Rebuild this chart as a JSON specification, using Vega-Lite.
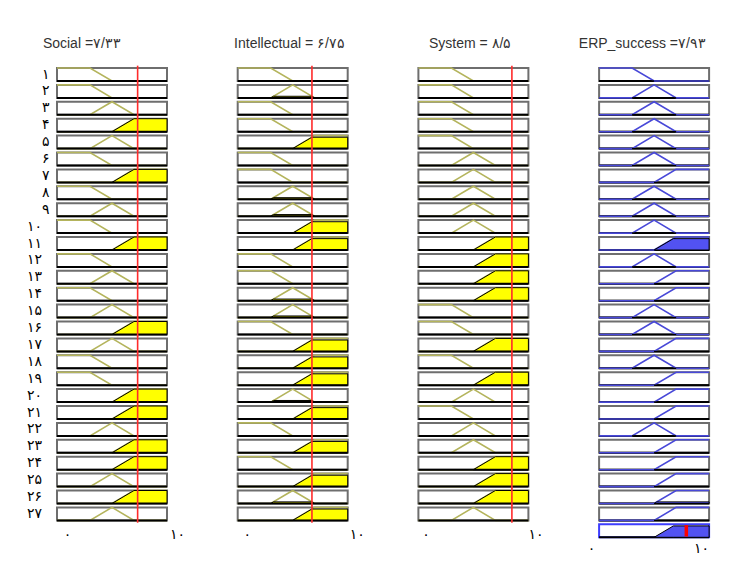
{
  "$schema": "https://vega.github.io/schema/vega-lite/v6.json",
  "background": "white",
  "padding": {"left": 26, "top": 36, "right": 5, "bottom": 5},
  "datasets": {
    "rules": [
      {"v":"Social","r":1,"lab":"۱","mf":"L"},{"v":"Social","r":2,"lab":"۲","mf":"L"},{"v":"Social","r":3,"lab":"۳","mf":"M"},{"v":"Social","r":4,"lab":"۴","mf":"H","k":"H1"},{"v":"Social","r":5,"lab":"۵","mf":"M"},{"v":"Social","r":6,"lab":"۶","mf":"L"},{"v":"Social","r":7,"lab":"۷","mf":"H","k":"H1"},{"v":"Social","r":8,"lab":"۸","mf":"L"},{"v":"Social","r":9,"lab":"۹","mf":"M"},{"v":"Social","r":10,"lab":"۱۰","mf":"L"},{"v":"Social","r":11,"lab":"۱۱","mf":"H","k":"H1"},{"v":"Social","r":12,"lab":"۱۲","mf":"L"},{"v":"Social","r":13,"lab":"۱۳","mf":"M"},{"v":"Social","r":14,"lab":"۱۴","mf":"L"},{"v":"Social","r":15,"lab":"۱۵","mf":"M"},{"v":"Social","r":16,"lab":"۱۶","mf":"H","k":"H1"},{"v":"Social","r":17,"lab":"۱۷","mf":"M"},{"v":"Social","r":18,"lab":"۱۸","mf":"L"},{"v":"Social","r":19,"lab":"۱۹","mf":"L"},{"v":"Social","r":20,"lab":"۲۰","mf":"H","k":"H1"},{"v":"Social","r":21,"lab":"۲۱","mf":"H","k":"H1"},{"v":"Social","r":22,"lab":"۲۲","mf":"M"},{"v":"Social","r":23,"lab":"۲۳","mf":"H","k":"H1"},{"v":"Social","r":24,"lab":"۲۴","mf":"H","k":"H1"},{"v":"Social","r":25,"lab":"۲۵","mf":"M"},{"v":"Social","r":26,"lab":"۲۶","mf":"H","k":"H1"},{"v":"Social","r":27,"lab":"۲۷","mf":"M"},
      {"v":"Intellectual","r":1,"mf":"L"},{"v":"Intellectual","r":2,"mf":"M","k":"M.125"},{"v":"Intellectual","r":3,"mf":"L"},{"v":"Intellectual","r":4,"mf":"L"},{"v":"Intellectual","r":5,"mf":"H","k":"H.875"},{"v":"Intellectual","r":6,"mf":"L"},{"v":"Intellectual","r":7,"mf":"L"},{"v":"Intellectual","r":8,"mf":"M","k":"M.125"},{"v":"Intellectual","r":9,"mf":"M","k":"M.125"},{"v":"Intellectual","r":10,"mf":"H","k":"H.875"},{"v":"Intellectual","r":11,"mf":"H","k":"H.875"},{"v":"Intellectual","r":12,"mf":"L"},{"v":"Intellectual","r":13,"mf":"L"},{"v":"Intellectual","r":14,"mf":"M","k":"M.125"},{"v":"Intellectual","r":15,"mf":"M","k":"M.125"},{"v":"Intellectual","r":16,"mf":"L"},{"v":"Intellectual","r":17,"mf":"H","k":"H.875"},{"v":"Intellectual","r":18,"mf":"H","k":"H.875"},{"v":"Intellectual","r":19,"mf":"H","k":"H.875"},{"v":"Intellectual","r":20,"mf":"M","k":"M.125"},{"v":"Intellectual","r":21,"mf":"H","k":"H.875"},{"v":"Intellectual","r":22,"mf":"L"},{"v":"Intellectual","r":23,"mf":"H","k":"H.875"},{"v":"Intellectual","r":24,"mf":"L"},{"v":"Intellectual","r":25,"mf":"H","k":"H.875"},{"v":"Intellectual","r":26,"mf":"M","k":"M.125"},{"v":"Intellectual","r":27,"mf":"H","k":"H.875"},
      {"v":"System","r":1,"mf":"L"},{"v":"System","r":2,"mf":"L"},{"v":"System","r":3,"mf":"L"},{"v":"System","r":4,"mf":"L"},{"v":"System","r":5,"mf":"L"},{"v":"System","r":6,"mf":"M"},{"v":"System","r":7,"mf":"M"},{"v":"System","r":8,"mf":"M"},{"v":"System","r":9,"mf":"M"},{"v":"System","r":10,"mf":"M"},{"v":"System","r":11,"mf":"H","k":"H1"},{"v":"System","r":12,"mf":"H","k":"H1"},{"v":"System","r":13,"mf":"H","k":"H1"},{"v":"System","r":14,"mf":"H","k":"H1"},{"v":"System","r":15,"mf":"L"},{"v":"System","r":16,"mf":"L"},{"v":"System","r":17,"mf":"H","k":"H1"},{"v":"System","r":18,"mf":"L"},{"v":"System","r":19,"mf":"H","k":"H1"},{"v":"System","r":20,"mf":"M"},{"v":"System","r":21,"mf":"L"},{"v":"System","r":22,"mf":"M"},{"v":"System","r":23,"mf":"M"},{"v":"System","r":24,"mf":"H","k":"H1"},{"v":"System","r":25,"mf":"H","k":"H1"},{"v":"System","r":26,"mf":"H","k":"H1"},{"v":"System","r":27,"mf":"M"},
      {"v":"ERP_success","r":1,"mf":"L","k":"L0"},{"v":"ERP_success","r":2,"mf":"M","k":"M0"},{"v":"ERP_success","r":3,"mf":"M","k":"M0"},{"v":"ERP_success","r":4,"mf":"M","k":"M0"},{"v":"ERP_success","r":5,"mf":"M","k":"M0"},{"v":"ERP_success","r":6,"mf":"M","k":"M0"},{"v":"ERP_success","r":7,"mf":"H","k":"H0"},{"v":"ERP_success","r":8,"mf":"M","k":"M0"},{"v":"ERP_success","r":9,"mf":"M","k":"M0"},{"v":"ERP_success","r":10,"mf":"M","k":"M0"},{"v":"ERP_success","r":11,"mf":"H","k":"H.875"},{"v":"ERP_success","r":12,"mf":"M","k":"M0"},{"v":"ERP_success","r":13,"mf":"H","k":"H0"},{"v":"ERP_success","r":14,"mf":"H","k":"H0"},{"v":"ERP_success","r":15,"mf":"M","k":"M0"},{"v":"ERP_success","r":16,"mf":"M","k":"M0"},{"v":"ERP_success","r":17,"mf":"H","k":"H0"},{"v":"ERP_success","r":18,"mf":"M","k":"M0"},{"v":"ERP_success","r":19,"mf":"H","k":"H0"},{"v":"ERP_success","r":20,"mf":"H","k":"H0"},{"v":"ERP_success","r":21,"mf":"H","k":"H0"},{"v":"ERP_success","r":22,"mf":"M","k":"M0"},{"v":"ERP_success","r":23,"mf":"H","k":"H0"},{"v":"ERP_success","r":24,"mf":"H","k":"H0"},{"v":"ERP_success","r":25,"mf":"H","k":"H0"},{"v":"ERP_success","r":26,"mf":"H","k":"H.125"},{"v":"ERP_success","r":27,"mf":"H","k":"H0"},{"v":"ERP_success","r":28,"k":"H.875"}
    ],
    "shapes": [
      {"mf":"L","xs":[0,3,5,10],"ys":[1,1,0,0]},
      {"mf":"M","xs":[0,3,5,7,10],"ys":[0,0,1,0,0]},
      {"mf":"H","xs":[0,5,7,10],"ys":[0,0,1,1]}
    ],
    "clips": [
      {"k":"H1","fx":[5,7,10],"fy":[0,1,1]},
      {"k":"H.875","fx":[5,6.75,10],"fy":[0,0.875,0.875]},
      {"k":"M.125","fx":[3,3.25,6.75,7],"fy":[0,0.125,0.125,0]},
      {"k":"H.125","fx":[5,5.25,10],"fy":[0,0.125,0.125]},
      {"k":"L0","fx":[0,5],"fy":[0,0]},
      {"k":"M0","fx":[3,7],"fy":[0,0]},
      {"k":"H0","fx":[5,10],"fy":[0,0]}
    ],
    "vars": [
      {"v":"Social","val":7.33},
      {"v":"Intellectual","val":6.75},
      {"v":"System","val":8.5},
      {"v":"ERP_success","val":7.93}
    ]
  },
  "data": {"name": "rules"},
  "bounds": "flush",
  "spacing": 180.7,
  "hconcat": [
    {
      "title": {"text": "Social =۷/۳۳", "anchor": "start", "align": "center", "dx": 55},
      "transform": [
        {"filter": {"field": "v", "equal": "Social"}},
        {"lookup": "mf", "from": {"data": {"name": "shapes"}, "key": "mf", "fields": ["xs", "ys"]}},
        {"lookup": "k", "from": {"data": {"name": "clips"}, "key": "k", "fields": ["fx", "fy"]}},
        {"lookup": "v", "from": {"data": {"name": "vars"}, "key": "v", "fields": ["val"]}}
      ],
      "spacing": {"row": 3.9},
      "bounds": "flush",
      "facet": {"row": {"field": "lab", "type": "ordinal", "sort": {"field": "r", "op": "min"},
        "header": {"title": null, "labelAngle": 0, "labelAlign": "right", "labelFontSize": 14, "labelFont": "DejaVu Sans", "labelColor": "#000", "labelPadding": 0}}},
      "spec": {
        "width": 110, "height": 13,
        "layer": [
          {"mark": {"type": "rect", "fill": "#ffffff", "stroke": "#6e6e6e", "strokeWidth": 2},
           "encoding": {
             "x": {"datum": 0, "type": "quantitative", "scale": {"domain": [0, 10], "nice": false, "zero": false}, "axis": {"values": [0, 10], "labelExpr": "datum.value == 0 ? '۰' : '۱۰'", "labelOffset": 10, "title": null}},
             "x2": {"datum": 10},
             "y": {"datum": 0, "type": "quantitative", "scale": {"domain": [0, 1], "nice": false}, "axis": null},
             "y2": {"datum": 1}}},
          {"transform": [{"filter": "datum.xs != null"}, {"flatten": ["xs", "ys"]}],
           "mark": {"type": "line", "color": "#b4b45c", "strokeWidth": 1.6},
           "encoding": {"x": {"field": "xs", "type": "quantitative", "title": null}, "y": {"field": "ys", "type": "quantitative", "axis": null}}},
          {"transform": [{"filter": "datum.fx != null"}, {"flatten": ["fx", "fy"]}],
           "mark": {"type": "area", "color": "#ffff00", "stroke": "#000000", "strokeWidth": 1, "fillOpacity": 1},
           "encoding": {"x": {"field": "fx", "type": "quantitative", "title": null}, "y": {"field": "fy", "type": "quantitative", "axis": null}}},
          {"mark": {"type": "rule", "color": "#000000", "strokeWidth": 2},
           "encoding": {"x": {"datum": 0, "type": "quantitative", "title": null}, "x2": {"datum": 10}, "y": {"datum": 0, "type": "quantitative", "axis": null}}},
          {"mark": {"type": "rule", "color": "#ff2b2b", "strokeWidth": 1.6},
           "encoding": {"x": {"field": "val", "type": "quantitative", "title": null}, "y": {"datum": -0.18, "type": "quantitative", "axis": null}, "y2": {"datum": 1.18}}}
        ]
      }
    },
    {
      "title": {"text": "Intellectual = ۶/۷۵", "anchor": "start", "align": "center", "dx": 55},
      "transform": [
        {"filter": {"field": "v", "equal": "Intellectual"}},
        {"lookup": "mf", "from": {"data": {"name": "shapes"}, "key": "mf", "fields": ["xs", "ys"]}},
        {"lookup": "k", "from": {"data": {"name": "clips"}, "key": "k", "fields": ["fx", "fy"]}},
        {"lookup": "v", "from": {"data": {"name": "vars"}, "key": "v", "fields": ["val"]}}
      ],
      "spacing": {"row": 3.9},
      "bounds": "flush",
      "facet": {"row": {"field": "r", "type": "ordinal", "header": {"title": null, "labels": false}}},
      "spec": {
        "width": 110, "height": 13,
        "layer": [
          {"mark": {"type": "rect", "fill": "#ffffff", "stroke": "#6e6e6e", "strokeWidth": 2},
           "encoding": {
             "x": {"datum": 0, "type": "quantitative", "scale": {"domain": [0, 10], "nice": false, "zero": false}, "axis": {"values": [0, 10], "labelExpr": "datum.value == 0 ? '۰' : '۱۰'", "labelOffset": 9, "title": null}},
             "x2": {"datum": 10},
             "y": {"datum": 0, "type": "quantitative", "scale": {"domain": [0, 1], "nice": false}, "axis": null},
             "y2": {"datum": 1}}},
          {"transform": [{"filter": "datum.xs != null"}, {"flatten": ["xs", "ys"]}],
           "mark": {"type": "line", "color": "#b4b45c", "strokeWidth": 1.6},
           "encoding": {"x": {"field": "xs", "type": "quantitative", "title": null}, "y": {"field": "ys", "type": "quantitative", "axis": null}}},
          {"transform": [{"filter": "datum.fx != null"}, {"flatten": ["fx", "fy"]}],
           "mark": {"type": "area", "color": "#ffff00", "stroke": "#000000", "strokeWidth": 1, "fillOpacity": 1},
           "encoding": {"x": {"field": "fx", "type": "quantitative", "title": null}, "y": {"field": "fy", "type": "quantitative", "axis": null}}},
          {"mark": {"type": "rule", "color": "#000000", "strokeWidth": 2},
           "encoding": {"x": {"datum": 0, "type": "quantitative", "title": null}, "x2": {"datum": 10}, "y": {"datum": 0, "type": "quantitative", "axis": null}}},
          {"mark": {"type": "rule", "color": "#ff2b2b", "strokeWidth": 1.6},
           "encoding": {"x": {"field": "val", "type": "quantitative", "title": null}, "y": {"datum": -0.18, "type": "quantitative", "axis": null}, "y2": {"datum": 1.18}}}
        ]
      }
    },
    {
      "title": {"text": "System = ۸/۵", "anchor": "start", "align": "center", "dx": 55},
      "transform": [
        {"filter": {"field": "v", "equal": "System"}},
        {"lookup": "mf", "from": {"data": {"name": "shapes"}, "key": "mf", "fields": ["xs", "ys"]}},
        {"lookup": "k", "from": {"data": {"name": "clips"}, "key": "k", "fields": ["fx", "fy"]}},
        {"lookup": "v", "from": {"data": {"name": "vars"}, "key": "v", "fields": ["val"]}}
      ],
      "spacing": {"row": 3.9},
      "bounds": "flush",
      "facet": {"row": {"field": "r", "type": "ordinal", "header": {"title": null, "labels": false}}},
      "spec": {
        "width": 110, "height": 13,
        "layer": [
          {"mark": {"type": "rect", "fill": "#ffffff", "stroke": "#6e6e6e", "strokeWidth": 2},
           "encoding": {
             "x": {"datum": 0, "type": "quantitative", "scale": {"domain": [0, 10], "nice": false, "zero": false}, "axis": {"values": [0, 10], "labelExpr": "datum.value == 0 ? '۰' : '۱۰'", "labelOffset": 7, "title": null}},
             "x2": {"datum": 10},
             "y": {"datum": 0, "type": "quantitative", "scale": {"domain": [0, 1], "nice": false}, "axis": null},
             "y2": {"datum": 1}}},
          {"transform": [{"filter": "datum.xs != null"}, {"flatten": ["xs", "ys"]}],
           "mark": {"type": "line", "color": "#b4b45c", "strokeWidth": 1.6},
           "encoding": {"x": {"field": "xs", "type": "quantitative", "title": null}, "y": {"field": "ys", "type": "quantitative", "axis": null}}},
          {"transform": [{"filter": "datum.fx != null"}, {"flatten": ["fx", "fy"]}],
           "mark": {"type": "area", "color": "#ffff00", "stroke": "#000000", "strokeWidth": 1, "fillOpacity": 1},
           "encoding": {"x": {"field": "fx", "type": "quantitative", "title": null}, "y": {"field": "fy", "type": "quantitative", "axis": null}}},
          {"mark": {"type": "rule", "color": "#000000", "strokeWidth": 2},
           "encoding": {"x": {"datum": 0, "type": "quantitative", "title": null}, "x2": {"datum": 10}, "y": {"datum": 0, "type": "quantitative", "axis": null}}},
          {"mark": {"type": "rule", "color": "#ff2b2b", "strokeWidth": 1.6},
           "encoding": {"x": {"field": "val", "type": "quantitative", "title": null}, "y": {"datum": -0.18, "type": "quantitative", "axis": null}, "y2": {"datum": 1.18}}}
        ]
      }
    },
    {
      "title": {"text": "ERP_success =۷/۹۳", "anchor": "start", "align": "center", "dx": 55},
      "transform": [
        {"filter": {"field": "v", "equal": "ERP_success"}},
        {"lookup": "mf", "from": {"data": {"name": "shapes"}, "key": "mf", "fields": ["xs", "ys"]}},
        {"lookup": "k", "from": {"data": {"name": "clips"}, "key": "k", "fields": ["fx", "fy"]}},
        {"lookup": "v", "from": {"data": {"name": "vars"}, "key": "v", "fields": ["val"]}}
      ],
      "spacing": {"row": 3.9},
      "bounds": "flush",
      "facet": {"row": {"field": "r", "type": "ordinal", "header": {"title": null, "labels": false}}},
      "spec": {
        "width": 110, "height": 13,
        "layer": [
          {"mark": {"type": "rect", "fill": "#ffffff", "strokeWidth": 2},
           "encoding": {
             "x": {"datum": 0, "type": "quantitative", "scale": {"domain": [0, 10], "nice": false, "zero": false}, "axis": {"values": [0, 10], "labelExpr": "datum.value == 0 ? '۰' : '۱۰'", "labelOffset": -8, "labelPadding": 3, "title": null}},
             "x2": {"datum": 10},
             "y": {"datum": 0, "type": "quantitative", "scale": {"domain": [0, 1], "nice": false}, "axis": null},
             "y2": {"datum": 1},
             "stroke": {"condition": {"test": "datum.r == 28", "value": "#3d3dff"}, "value": "#6e6e6e"}}},
          {"mark": {"type": "rule", "color": "#000000", "strokeWidth": 2},
           "encoding": {"x": {"datum": 0, "type": "quantitative", "title": null}, "x2": {"datum": 10}, "y": {"datum": 0, "type": "quantitative", "axis": null}}},
          {"transform": [{"filter": "datum.xs != null"}, {"flatten": ["xs", "ys"]}],
           "mark": {"type": "line", "color": "#4848d8", "strokeWidth": 1.6},
           "encoding": {"x": {"field": "xs", "type": "quantitative", "title": null}, "y": {"field": "ys", "type": "quantitative", "axis": null}}},
          {"transform": [{"filter": "datum.fx != null"}, {"flatten": ["fx", "fy"]}],
           "mark": {"type": "area", "color": "#5252f2", "stroke": "#000000", "strokeWidth": 1, "fillOpacity": 1},
           "encoding": {"x": {"field": "fx", "type": "quantitative", "title": null}, "y": {"field": "fy", "type": "quantitative", "axis": null}}},
          {"transform": [{"filter": "datum.r == 28"}],
           "mark": {"type": "rule", "color": "#ff0000", "strokeWidth": 3.5},
           "encoding": {"x": {"field": "val", "type": "quantitative", "title": null}, "y": {"datum": 0.06, "type": "quantitative", "axis": null}, "y2": {"datum": 0.94}}}
        ]
      }
    }
  ],
  "config": {
    "view": {"stroke": null},
    "title": {"font": "Liberation Sans Narrow, Liberation Sans, sans-serif", "fontSize": 14, "fontWeight": "normal", "color": "#333333", "offset": 14},
    "axisX": {"ticks": false, "domain": false, "grid": false, "labelFontSize": 14, "labelFont": "DejaVu Sans", "labelColor": "#000000", "labelPadding": 6, "labelFlush": false, "labelAlign": "center"}
  }
}
